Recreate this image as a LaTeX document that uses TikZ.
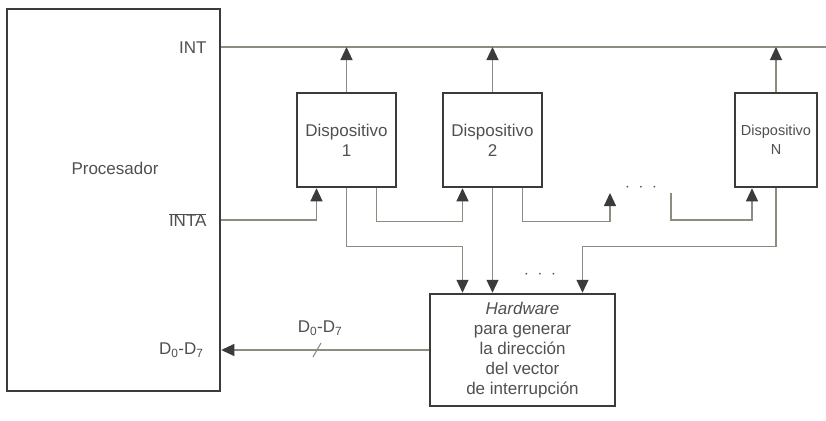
\documentclass[tikz,border=0pt]{standalone}
\usepackage{fontspec}
\setmainfont{Liberation Sans}
\usetikzlibrary{arrows.meta}

\definecolor{ink}{HTML}{3C3A3A}
\definecolor{wire}{HTML}{8E8C80}
\definecolor{txt}{HTML}{505050}

\tikzset{
  box/.style={draw=ink, line width=2.5pt, fill=white, inner sep=0pt, align=center},
  sig/.style={draw=wire, line width=1.1pt},
  tip/.style={-{Triangle[length=13pt,width=12pt,color=ink]}},
  every node/.style={text=txt, font=\fontsize{17}{20}\selectfont}
}

\begin{document}
\begin{tikzpicture}[x=1pt,y=-1pt]
      \useasboundingbox (0,0) rectangle (826,420);

      % blocks
      \node [box, minimum width=213, minimum height=382] (proc) at (113.5,200) {};
      \node (lproc) at (115,168) {Procesador};
      \node [anchor=east] (lint) at (210,48) {INT};
      \node [anchor=east] (linta) at (210,220) {$\overline{\mbox{INTA}}$};
      \node [anchor=east] (ldata) at (207,350) {D\textsubscript{0}-D\textsubscript{7}};

      \node [box, minimum width=99, minimum height=94] (d1) at (346.5,140) {Dispositivo\\1};
      \node [box, minimum width=99, minimum height=94] (d2) at (492.5,140) {Dispositivo\\2};
      \node [box, minimum width=82, minimum height=94, font=\fontsize{14.5}{19}\selectfont] (dN) at (776,140) {Dispositivo\\N};
      \node [box, minimum width=185, minimum height=112] (hw) at (522.5,350)
            {\textit{Hardware}\\para generar\\la dirección\\del vector\\de interrupción};

      % INT line
      \coordinate (intend) at (826,47);
      \draw [sig] (proc.east |- intend) -- (intend);
      \foreach \d in {d1,d2,dN} \draw [sig, tip] (\d.north) -- (\d.north |- intend);

      % INTA chain
      \coordinate (inta) at (220,220);
      \coordinate (gap1) at (610,193);
      \coordinate (gap2) at (671,193);
      \draw [sig, tip] (proc.east |- inta) -| ([xshift=-30]d1.south);
      \draw [sig, tip] ([xshift=30]d1.south) -- ++(0,33) -| ([xshift=-30]d2.south);
      \draw [sig, tip] ([xshift=30]d2.south) -- ++(0,33) -| (gap1);
      \node (dots1) at (641,188) {$\cdot\;\cdot\;\cdot$};
      \draw [sig, tip] (gap2) -- ++(0,27) -| ([xshift=-24]dN.south);

      % vector lines
      \draw [sig, tip] (d1.south) -- ++(0,58) -| ([xshift=-60]hw.north);
      \draw [sig, tip] (d2.south) -- (d2.south |- hw.north);
      \draw [sig, tip] (dN.south) -- ++(0,58) -| ([xshift=60]hw.north);
      \node (dots2) at (540,275) {$\cdot\;\cdot\;\cdot$};

      % data bus
      \coordinate (slash) at (317,350);
      \draw [sig, tip] (hw.west) -- (proc.east |- hw.west);
      \draw [sig] ([shift={(-4,7)}]slash) -- ([shift={(4,-7)}]slash);
      \node (lbus) at (320,328) {D\textsubscript{0}-D\textsubscript{7}};
\end{tikzpicture}
\end{document}
